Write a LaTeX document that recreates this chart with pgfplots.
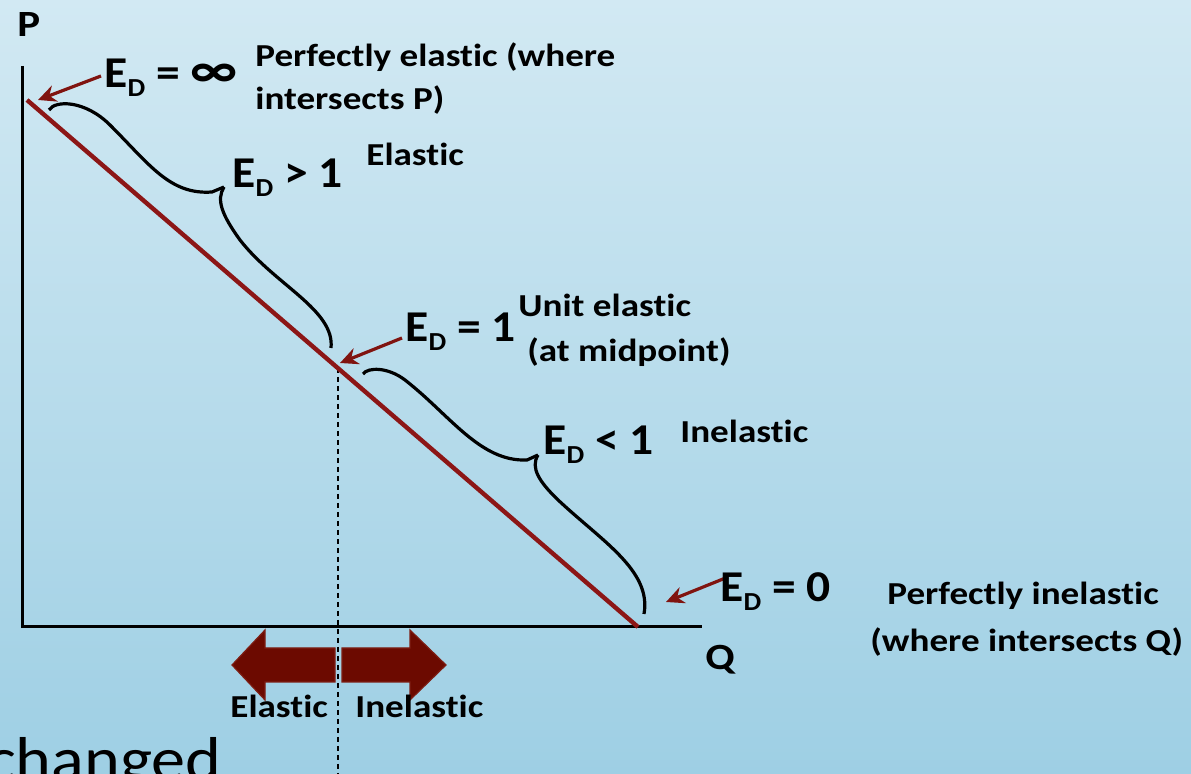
\documentclass[border=0pt]{standalone}
\usepackage{pgfplots}
\pgfplotsset{compat=1.18}
\usepackage{fontspec}
\setmainfont{Carlito}[FakeStretch=1.16, Ligatures=NoCommon]
\newfontfamily\edfont{Carlito}[FakeStretch=1.08, Ligatures=NoCommon]
\newfontfamily\plainfont{Carlito}[FakeStretch=1.1, Ligatures=NoCommon]
\usetikzlibrary{arrows.meta}
\definecolor{bgtop}{RGB}{210,233,243}
\definecolor{bgbot}{RGB}{158,207,228}
\definecolor{dline}{RGB}{140,22,22}
\definecolor{darr}{RGB}{128,20,16}
\definecolor{blockfill}{RGB}{108,10,0}
\definecolor{blockdraw}{RGB}{125,30,20}
\newcommand{\ED}[1]{{\edfont\fontsize{22}{24}\selectfont\bfseries E\raisebox{-4.5pt}{\fontsize{13}{14}\selectfont D}\ #1}}
\newcommand{\tx}{\fontsize{16}{21}\selectfont\bfseries}
\begin{document}
\begin{tikzpicture}
\begin{axis}[
  scale only axis, width=595.5pt, height=387pt,
  xmin=0, xmax=1191, ymin=0, ymax=774, y dir=reverse,
  hide axis, clip=false,
]
% background
\fill[top color=bgtop, bottom color=bgbot] (axis cs:0,0) rectangle (axis cs:1191,774);
% dashed midpoint line
\addplot[black, line width=0.8pt, dash pattern=on 2.5pt off 2pt] coordinates {(338,368) (338,774)};
% axes
\addplot[black, line width=1.5pt] coordinates {(22,66) (22,627) (702,627)};
% demand line
\addplot[dline, line width=2.2pt] coordinates {(27,100) (638,627)};
% braces
\draw[black, line width=1.6pt] (axis cs:49,110) .. controls (axis cs:55,100) and (axis cs:85,100) .. (axis cs:110,125)
  .. controls (axis cs:150,165) and (axis cs:170,195) .. (axis cs:212,192) -- (axis cs:224,187);
\draw[black, line width=1.6pt] (axis cs:224,187) .. controls (axis cs:216,200) and (axis cs:222,215) .. (axis cs:240,240)
  .. controls (axis cs:275,285) and (axis cs:335,310) .. (axis cs:331,348);
\draw[black, line width=1.6pt] (axis cs:363,374) .. controls (axis cs:368,367) and (axis cs:388,367) .. (axis cs:405,380)
  .. controls (axis cs:450,415) and (axis cs:480,462) .. (axis cs:527,460) -- (axis cs:538,455);
\draw[black, line width=1.6pt] (axis cs:538,455) .. controls (axis cs:530,468) and (axis cs:540,482) .. (axis cs:556,498)
  .. controls (axis cs:600,540) and (axis cs:652,570) .. (axis cs:644,614);
% arrows
\draw[darr, line width=1.6pt, -{Stealth[length=9pt,width=8.5pt,inset=3pt]}] (axis cs:101,76) -- (axis cs:38,100);
\draw[darr, line width=1.6pt, -{Stealth[length=9pt,width=8.5pt,inset=3pt]}] (axis cs:402,338) -- (axis cs:340,363);
\draw[darr, line width=1.6pt, -{Stealth[length=9pt,width=8.5pt,inset=3pt]}] (axis cs:728,577) -- (axis cs:666,602);
% block arrows
\filldraw[fill=blockfill, draw=blockdraw, line width=0.6pt] (axis cs:232,665) -- (axis cs:265,630) -- (axis cs:265,648) -- (axis cs:335,648) -- (axis cs:335,682) -- (axis cs:265,682) -- (axis cs:265,700) -- cycle;
\filldraw[fill=blockfill, draw=blockdraw, line width=0.6pt] (axis cs:446,665) -- (axis cs:410,630) -- (axis cs:410,648) -- (axis cs:342,648) -- (axis cs:342,682) -- (axis cs:410,682) -- (axis cs:410,700) -- cycle;
% labels
\node[anchor=base west, inner sep=0pt, font=\fontsize{18.5}{20}\selectfont\bfseries] at (axis cs:17,37) {P};
\node[anchor=base west, inner sep=0pt, font=\fontsize{18.5}{20}\selectfont\bfseries] at (axis cs:705,670) {Q};
\node[anchor=base west, inner sep=0pt] at (axis cs:104,88) {\ED{= {\fontsize{26}{26}\selectfont ∞}}};
\node[anchor=base west, inner sep=0pt, font=\tx] at (axis cs:255,67) {Perfectly elastic (where};
\node[anchor=base west, inner sep=0pt, font=\tx] at (axis cs:255,110) {intersects P)};
\node[anchor=base west, inner sep=0pt] at (axis cs:232,188) {\ED{> 1}};
\node[anchor=base west, inner sep=0pt, font=\tx] at (axis cs:366,166) {Elastic};
\node[anchor=base west, inner sep=0pt] at (axis cs:405,342) {\ED{= 1}};
\node[anchor=base west, inner sep=0pt, font=\tx] at (axis cs:518,317) {Unit elastic};
\node[anchor=base west, inner sep=0pt, font=\tx] at (axis cs:527,362) {(at midpoint)};
\node[anchor=base west, inner sep=0pt] at (axis cs:543,455) {\ED{< 1}};
\node[anchor=base west, inner sep=0pt, font=\tx] at (axis cs:680,443) {Inelastic};
\node[anchor=base west, inner sep=0pt] at (axis cs:720,602) {\ED{= 0}};
\node[anchor=base west, inner sep=0pt, font=\tx] at (axis cs:887,605) {Perfectly inelastic};
\node[anchor=base west, inner sep=0pt, font=\tx] at (axis cs:870,652) {(where intersects Q)};
\node[anchor=base west, inner sep=0pt, font=\tx] at (axis cs:230,718) {Elastic};
\node[anchor=base west, inner sep=0pt, font=\tx] at (axis cs:355,718) {Inelastic};
\node[anchor=base east, inner sep=0pt, font=\plainfont\fontsize{31}{34}\selectfont] at (axis cs:222,781) {changed};
\end{axis}
\pgfresetboundingbox
\path[use as bounding box] (current axis.south west) rectangle (current axis.north east);
\end{tikzpicture}
\end{document}
